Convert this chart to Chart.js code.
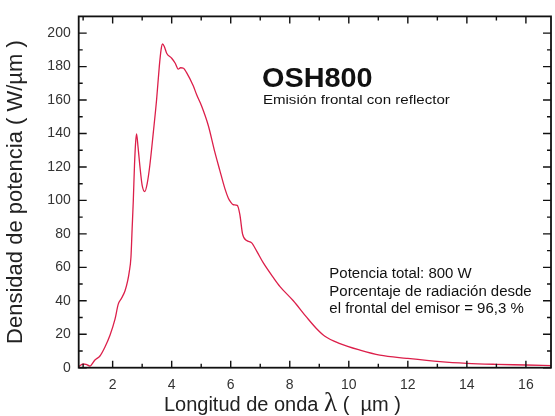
<!DOCTYPE html>
<html><head><meta charset="utf-8">
<script src="https://cdn.jsdelivr.net/npm/chart.js@4.4.0/dist/chart.umd.min.js"></script>
<style>html,body{margin:0;padding:0;background:#fff}#w{width:555px;height:416px}</style>
</head><body><div id="w"><canvas id="c"></canvas></div>
<script>
const wavelength = [0.85,1.0,1.1,1.23,1.4,1.57,1.74,1.91,2.08,2.19,2.3,2.42,2.51,2.56,2.62,2.66,2.70,2.74,2.78,2.81,2.86,2.92,3.0,3.09,3.17,3.26,3.38,3.49,3.58,3.64,3.69,3.75,3.83,4.0,4.12,4.22,4.3,4.4,4.5,4.73,4.85,5.01,5.24,5.46,5.63,5.80,5.92,6.0,6.09,6.22,6.31,6.40,6.54,6.71,6.88,7.1,7.44,7.67,8.12,8.57,8.91,9.19,9.7,10.38,11.05,11.96,13.09,14.0,15.0,16.0,16.85];
const density = [0.6,2.2,2.0,1.0,4.6,7,12.4,19.4,29,38,41.5,46,52,57,66,83,100,121,135,139.8,132,121,109,105.3,110,121,141,160.5,180,190,193.5,192,188,185,182,178.5,179.3,179,176.5,168.5,163,156.6,144.8,129,118,107.2,101.3,99,97.4,97,91.5,80,76,74.6,69.7,62.8,54,48.5,40,30.2,23.3,18.8,14.4,10.5,7.5,5.6,3.6,2.6,2.0,1.6,1.2];
const xTicks = [2,4,6,8,10,12,14,16];
const yTicks = [0,20,40,60,80,100,120,140,160,180,200];
const xMinor = [1,3,5,7,9,11,13,15];
const yMinor = [10,30,50,70,90,110,130,150,170,190];
const titleText = "OSH800";
const subtitleText = "Emisión frontal con reflector";
const noteLines = ["Potencia total: 800 W","Porcentaje de radiación desde","el frontal del emisor = 96,3 %"];
const xTitleParts = ["Longitud de onda ","λ"," (  µm )"];
const yTitle = "Densidad de potencia ( W/µm )";

const FONT = "'Liberation Sans', Arial, sans-serif";

function stretchText(ctx, text, x, y, sx){
  ctx.save(); ctx.translate(x, y); ctx.scale(sx, 1); ctx.fillText(text, 0, 0); ctx.restore();
}

const framePlugin = {
  id:'frame',
  afterDraw(chart){
    const ctx = chart.ctx, a = chart.chartArea, xs = chart.scales.x, ys = chart.scales.y;
    ctx.save();
    ctx.strokeStyle = '#111';
    ctx.lineWidth = 1.8;
    ctx.strokeRect(a.left, a.top, a.right-a.left, a.bottom-a.top);
    ctx.lineWidth = 1.4;
    const tick = (vals, len, isX) => {
      vals.forEach(v=>{
        ctx.beginPath();
        if (isX){
          const p = xs.getPixelForValue(v);
          ctx.moveTo(p, a.bottom); ctx.lineTo(p, a.bottom-len);
          ctx.moveTo(p, a.top); ctx.lineTo(p, a.top+len);
        } else {
          const p = ys.getPixelForValue(v);
          ctx.moveTo(a.left, p); ctx.lineTo(a.left+len, p);
          ctx.moveTo(a.right, p); ctx.lineTo(a.right-len, p);
        }
        ctx.stroke();
      });
    };
    tick(xTicks,7,true); tick(xMinor,4,true);
    tick(yTicks,8,false); tick(yMinor,4,false);

    ctx.fillStyle = '#111';
    ctx.textBaseline = 'alphabetic';
    ctx.textAlign = 'left';
    ctx.font = "bold 28px " + FONT;
    stretchText(ctx, titleText, xs.getPixelForValue(7.06), ys.getPixelForValue(167.5), 1.03);
    ctx.font = "13px " + FONT;
    stretchText(ctx, subtitleText, xs.getPixelForValue(7.09), ys.getPixelForValue(157.5), 1.16);
    ctx.font = "14px " + FONT;
    const nx = xs.getPixelForValue(9.34);
    noteLines.forEach((t,i)=>{
      stretchText(ctx, t, nx, ys.getPixelForValue(53.5 - i*10.4), 1.07);
    });
    ctx.fillStyle = '#222';
    const f1 = "20px " + FONT, f2 = "27px 'Liberation Serif', 'DejaVu Serif', serif";
    ctx.font = f1; const w1 = ctx.measureText(xTitleParts[0]).width, w3 = ctx.measureText(xTitleParts[2]).width;
    ctx.font = f2; const w2 = ctx.measureText(xTitleParts[1]).width;
    const total = w1+w2+w3;
    let x0 = xs.getPixelForValue(7.75) - total/2;
    const by = chart.height - 5;
    ctx.font = f1; ctx.fillText(xTitleParts[0], x0, by);
    ctx.font = f2; ctx.fillText(xTitleParts[1], x0+w1, by);
    ctx.font = f1; ctx.fillText(xTitleParts[2], x0+w1+w2, by);
    ctx.restore();
  }
};

new Chart(document.getElementById('c'), {
  type:'line',
  data:{ datasets:[{
    data: wavelength.map((x,i)=>({x, y:density[i]})),
    borderColor:'#dc1f4a', borderWidth:1.3, pointRadius:0,
    cubicInterpolationMode:'monotone', fill:false
  }]},
  options:{
    responsive:true, maintainAspectRatio:false, animation:false,
    layout:{padding:{top:13, right:4, left:0, bottom:0}},
    plugins:{legend:{display:false}, tooltip:{enabled:false}},
    scales:{
      x:{ type:'linear', min:0.85, max:16.85,
        grid:{display:false, drawTicks:false}, border:{display:false},
        afterBuildTicks:s=>{ s.ticks = xTicks.map(v=>({value:v})); },
        afterFit:s=>{ s.height = 48.3; },
        ticks:{ padding:9, color:'#333', font:{family:FONT, size:14}, maxRotation:0, autoSkip:false }
      },
      y:{ type:'linear', min:0, max:210,
        grid:{display:false, drawTicks:false}, border:{display:false},
        afterBuildTicks:s=>{ s.ticks = yTicks.map(v=>({value:v})); },
        afterFit:s=>{ s.width = 78.7; },
        ticks:{ padding:8, color:'#333', font:{family:FONT, size:14}, autoSkip:false },
        title:{ display:true, text:yTitle, color:'#222', font:{family:FONT, size:22}, padding:{top:3, bottom:0} }
      }
    }
  },
  plugins:[framePlugin]
});
</script></body></html>
